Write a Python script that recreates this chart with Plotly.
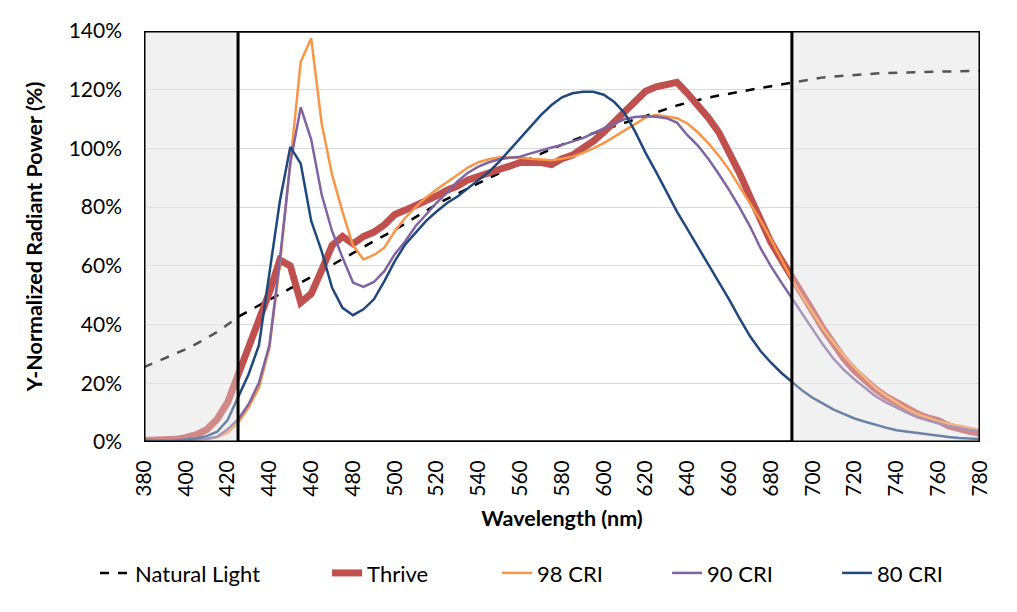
import plotly.graph_objects as go

wavelength = [380, 385, 390, 395, 400, 405, 410, 415, 420, 425, 430, 435, 440, 445, 450, 455,
              460, 465, 470, 475, 480, 485, 490, 495, 500, 505, 510, 515, 520, 525, 530, 535,
              540, 545, 550, 555, 560, 565, 570, 575, 580, 585, 590, 595, 600, 605, 610, 615,
              620, 625, 630, 635, 640, 645, 650, 655, 660, 665, 670, 675, 680, 685, 690, 695,
              700, 705, 710, 715, 720, 725, 730, 735, 740, 745, 750, 755, 760, 765, 770, 775, 780]

natural_light = [25.5, 27.0, 28.4, 30.0, 31.6, 33.4, 35.4, 37.5, 40.0, 42.6, 44.6, 46.6, 48.5, 50.4, 52.3, 54.2,
                 56.2, 58.2, 60.3, 62.4, 64.4, 66.4, 68.4, 70.3, 72.3, 74.4, 76.6, 78.8, 81.0, 82.8, 84.6, 86.4,
                 88.2, 89.9, 91.6, 93.3, 95.0, 96.6, 98.2, 99.8, 101.3, 102.7, 104.0, 105.2, 106.4, 107.6, 108.8, 110.0,
                 111.2, 112.4, 113.5, 114.6, 115.6, 116.5, 117.3, 118.0, 118.7, 119.4, 120.0, 120.6, 121.2, 121.8, 122.4, 123.0,
                 123.6, 124.2, 124.5, 124.8, 125.0, 125.3, 125.5, 125.7, 125.8, 126.0, 126.1, 126.2, 126.3, 126.3, 126.4, 126.4, 126.4]

thrive = [0.5, 0.5, 0.6, 0.9, 1.5, 2.5, 4.2, 7.8, 13.5, 22.5, 31.5, 41.0, 51.0, 62.0, 60.0, 47.5,
          50.5, 58.5, 67.0, 70.0, 67.5, 70.0, 71.5, 74.0, 77.5, 79.0, 80.5, 82.0, 83.8, 85.8, 87.2, 89.3,
          90.5, 91.8, 93.3, 94.5, 95.2, 95.2, 95.2, 94.5, 96.5, 97.7, 100.0, 102.5, 105.5, 109.0, 113.0, 116.5,
          119.5, 121.0, 121.8, 122.5, 118.8, 115.0, 110.5, 105.5, 99.0, 91.5, 83.5, 75.5, 68.0, 62.0, 56.5, 50.5,
          44.5, 38.5, 33.0, 28.3, 24.3, 21.0, 18.0, 15.5, 13.3, 11.3, 9.6, 8.2, 7.3, 5.5, 4.4, 3.6, 3.0]

cri_98 = [0.2, 0.2, 0.2, 0.3, 0.5, 0.7, 1.0, 1.6, 3.2, 6.6, 11.7, 18.5, 32.0, 60.5, 95.0, 129.5,
          137.5, 108.5, 91.0, 78.4, 67.0, 62.2, 63.7, 66.2, 71.8, 76.4, 80.0, 83.3, 86.0, 88.5, 91.2, 93.5,
          95.3, 96.3, 97.0, 97.0, 96.8, 96.5, 96.3, 96.0, 96.5, 97.2, 98.5, 100.0, 101.8, 104.0, 106.3, 108.5,
          110.5, 111.5, 111.0, 110.3, 108.5, 105.5, 101.8, 97.5, 92.7, 87.0, 81.4, 75.5, 69.0, 62.0, 55.3, 49.5,
          44.0, 38.5, 33.8, 29.3, 25.3, 21.8, 18.5, 15.8, 13.4, 11.3, 9.5, 8.2, 7.1, 6.2, 5.5, 4.8, 4.2]

cri_90 = [0.3, 0.3, 0.3, 0.4, 0.6, 0.8, 1.1, 1.8, 4.3, 7.7, 12.8, 20.2, 33.0, 62.0, 95.0, 114.0,
          103.0, 84.3, 71.8, 62.8, 54.3, 52.8, 54.5, 58.2, 64.0, 68.4, 73.6, 77.5, 81.5, 85.0, 88.8, 91.7,
          93.8, 95.3, 96.3, 96.8, 97.2, 98.3, 99.4, 100.3, 101.2, 102.3, 103.5, 105.2, 106.8, 108.5, 110.0, 110.7,
          111.0, 110.8, 110.3, 108.8, 104.5, 101.0, 96.5, 91.3, 85.8, 79.8, 73.4, 66.0, 59.8, 54.3, 49.0, 43.5,
          38.3, 33.0, 28.3, 24.5, 21.3, 18.3, 15.6, 13.5, 11.7, 10.0, 8.4, 7.3, 6.4, 5.4, 4.7, 4.1, 3.6]

cri_80 = [0.5, 0.4, 0.4, 0.5, 0.8, 1.2, 2.0, 3.5, 7.5, 15.0, 23.0, 33.0, 57.0, 82.0, 100.5, 94.8,
          75.3, 65.0, 52.5, 45.7, 43.2, 45.2, 48.6, 54.8, 61.6, 67.3, 71.3, 75.3, 78.5, 81.4, 83.6, 86.4,
          89.3, 92.0, 95.5, 99.5, 103.5, 107.4, 111.4, 114.8, 117.4, 118.8, 119.3, 119.3, 118.3, 115.8, 112.0, 105.7,
          98.5, 92.0, 85.0, 78.5, 72.5, 66.5, 60.5, 54.5, 48.5, 42.0, 36.0, 31.0, 27.0, 23.5, 20.5, 17.5,
          15.0, 13.0, 11.0, 9.5, 8.0, 6.9, 5.8, 4.9, 4.0, 3.5, 3.0, 2.5, 2.0, 1.7, 1.4, 1.2, 1.0]

x_ticks = [380, 400, 420, 440, 460, 480, 500, 520, 540, 560, 580, 600, 620, 640, 660, 680, 700, 720, 740, 760, 780]
y_ticks = [0, 20, 40, 60, 80, 100, 120, 140]
box_range = [425, 690]

FONT = "Lato"

fig = go.Figure()
fig.add_trace(go.Scatter(x=wavelength, y=natural_light, name="Natural Light", mode="lines",
                         line=dict(color="#000000", width=2.5, dash="dash"), legend="legend"))
fig.add_trace(go.Scatter(x=wavelength, y=thrive, name="Thrive", mode="lines",
                         line=dict(color="#C0504D", width=7), legend="legend2"))
fig.add_trace(go.Scatter(x=wavelength, y=cri_98, name="98 CRI", mode="lines",
                         line=dict(color="#F79646", width=2.5), legend="legend2"))
fig.add_trace(go.Scatter(x=wavelength, y=cri_90, name="90 CRI", mode="lines",
                         line=dict(color="#8064A2", width=2.5), legend="legend2"))
fig.add_trace(go.Scatter(x=wavelength, y=cri_80, name="80 CRI", mode="lines",
                         line=dict(color="#1F497D", width=2.5), legend="legend2"))

xmin, xmax = x_ticks[0], x_ticks[-1]
ymin, ymax = y_ticks[0], y_ticks[-1]
shapes = []
for x0, x1 in [(xmin, box_range[0]), (box_range[1], xmax)]:
    shapes.append(dict(type="rect", xref="x", yref="y", x0=x0, x1=x1, y0=ymin, y1=ymax,
                       fillcolor="#F2F2F2", line=dict(width=0), layer="below"))
    shapes.append(dict(type="rect", xref="x", yref="y", x0=x0, x1=x1, y0=ymin, y1=ymax,
                       fillcolor="rgba(242,242,242,0.35)", line=dict(width=0), layer="above"))
shapes.append(dict(type="rect", xref="x", yref="y", x0=xmin, x1=xmax, y0=ymin, y1=ymax,
                   fillcolor="rgba(0,0,0,0)", line=dict(color="#000000", width=3), layer="above"))
shapes.append(dict(type="rect", xref="x", yref="y", x0=box_range[0], x1=box_range[1], y0=ymin, y1=ymax,
                   fillcolor="rgba(0,0,0,0)", line=dict(color="#000000", width=3), layer="above"))

fig.update_layout(
    width=1009, height=604,
    margin=dict(l=136, r=37, t=23, b=170, autoexpand=False),
    paper_bgcolor="white", plot_bgcolor="white",
    font=dict(family=FONT, size=21, color="#000000"),
    shapes=shapes,
    showlegend=True,
    legend=dict(orientation="h", x=-0.0586, xanchor="left", y=-0.319, yanchor="middle",
                font=dict(family=FONT, size=22, color="#000000"), bgcolor="rgba(0,0,0,0)"),
    legend2=dict(orientation="h", x=0.219, xanchor="left", y=-0.319, yanchor="middle",
                 entrywidth=125, entrywidthmode="pixels",
                 font=dict(family=FONT, size=22, color="#000000"), bgcolor="rgba(0,0,0,0)"),
    xaxis=dict(range=[xmin, xmax], tickmode="array", tickvals=x_ticks,
               ticktext=[str(v) for v in x_ticks], tickangle=-90,
               showgrid=False, zeroline=False, showline=False, ticks="", ticklabelstandoff=13,
               tickfont=dict(family=FONT, size=21, color="#000000"),
               title=dict(text="<b>Wavelength (nm)</b>", standoff=15,
                          font=dict(family=FONT, size=21.5, color="#000000"))),
    yaxis=dict(range=[ymin, ymax], tickmode="array", tickvals=y_ticks,
               ticktext=[f"{v}%" for v in y_ticks],
               showgrid=True, gridcolor="#D9D9D9", gridwidth=1, zeroline=False, showline=False,
               ticks="", ticklabelstandoff=21,
               tickfont=dict(family=FONT, size=21, color="#000000"),
               title=dict(text="<b>Y-Normalized Radiant Power (%)</b>", standoff=20,
                          font=dict(family=FONT, size=21.5, color="#000000"))),
)

fig.write_html("out.html")
